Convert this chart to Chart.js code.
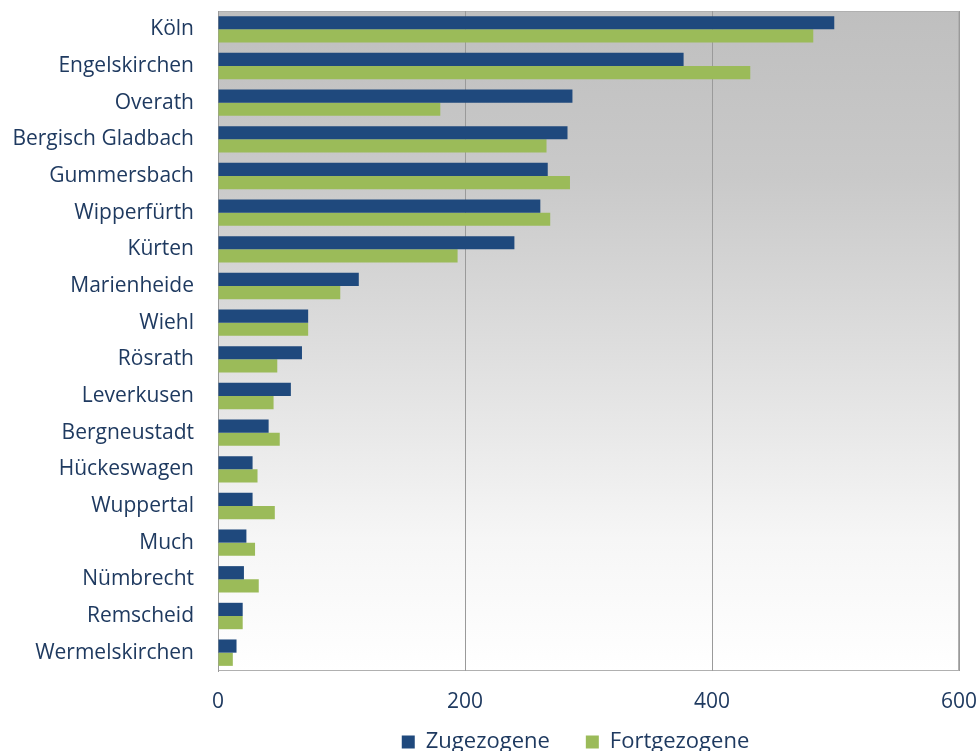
<!DOCTYPE html>
<html>
<head>
<meta charset="utf-8">
<script src="https://cdn.jsdelivr.net/npm/chart.js@4"></script>
<style>
  html, body { margin: 0; padding: 0; background: #fff; }
  #wrap { width: 979px; height: 751px; }
</style>
</head>
<body>
<div id="wrap"><canvas id="chart" width="979" height="751"></canvas></div>
<script>
const towns = ['Köln', 'Engelskirchen', 'Overath', 'Bergisch Gladbach', 'Gummersbach', 'Wipperfürth',
  'Kürten', 'Marienheide', 'Wiehl', 'Rösrath', 'Leverkusen', 'Bergneustadt', 'Hückeswagen',
  'Wuppertal', 'Much', 'Nümbrecht', 'Remscheid', 'Wermelskirchen'];
const zugezogene = [499, 377, 287, 283, 267, 261, 240, 114, 73, 68, 59, 41, 28, 28, 23, 21, 20, 15];
const fortgezogene = [482, 431, 180, 266, 285, 269, 194, 99, 73, 48, 45, 50, 32, 46, 30, 33, 20, 12];
const xTicks = [0, 200, 400, 600];

const textColor = '#1f3a60';
const font = { family: 'Open Sans', size: 21, lineHeight: 1 };

// vertical gray-to-white gradient behind the plot area
const plotBackground = {
  id: 'plotBackground',
  beforeDraw(chart) {
    const { ctx, chartArea: a } = chart;
    const g = ctx.createLinearGradient(0, a.top, 0, a.bottom);
    g.addColorStop(0, '#bfbfbf');
    g.addColorStop(0.25, '#c9c9c9');
    g.addColorStop(0.5, '#dddddd');
    g.addColorStop(0.8, '#f6f6f6');
    g.addColorStop(1, '#ffffff');
    ctx.save();
    ctx.fillStyle = g;
    ctx.fillRect(a.left, a.top, a.right - a.left, a.bottom - a.top);
    ctx.strokeStyle = '#b0b0b0';
    ctx.lineWidth = 1;
    ctx.strokeRect(a.left + 0.5, a.top + 0.5, a.right - a.left - 1, a.bottom - a.top - 1);
    ctx.restore();
  }
};

// nudge the legend a little left and up, as in the original
const legendShift = {
  id: 'legendShift',
  afterLayout(chart) {
    const lg = chart.legend;
    lg.left -= 13; lg.right -= 13;
    lg.top -= 21; lg.bottom -= 21;
  }
};

new Chart(document.getElementById('chart'), {
  type: 'bar',
  data: {
    labels: towns,
    datasets: [
      { label: 'Zugezogene', data: zugezogene, backgroundColor: '#1f497d' },
      { label: 'Fortgezogene', data: fortgezogene, backgroundColor: '#9bbb59' }
    ]
  },
  options: {
    indexAxis: 'y',
    responsive: false,
    animation: false,
    layout: { padding: { top: 11, right: 20, left: 0, bottom: -33 } },
    datasets: { bar: { categoryPercentage: 0.72, barPercentage: 1 } },
    scales: {
      x: {
        min: 0, max: 600,
        afterBuildTicks: s => { s.ticks = xTicks.map(v => ({ value: v })); },
        grid: { color: '#9a9a9a', drawTicks: true, tickLength: 21, tickColor: 'rgba(0,0,0,0)' },
        border: { display: false },
        ticks: { color: textColor, font, padding: 0 },
        afterFit: s => { s.height = 45; }
      },
      y: {
        grid: { display: false, drawTicks: true, tickLength: 24 },
        border: { color: '#9a9a9a' },
        ticks: { color: textColor, font, padding: 0 },
        afterFit: s => { s.width = 218; }
      }
    },
    plugins: {
      legend: {
        position: 'bottom',
        fullSize: false,
        labels: { color: textColor, font: { family: 'Open Sans', size: 22 }, boxWidth: 13, boxHeight: 13, padding: 36 }
      },
      tooltip: { enabled: false }
    }
  },
  plugins: [plotBackground, legendShift]
});
</script>
</body>
</html>
